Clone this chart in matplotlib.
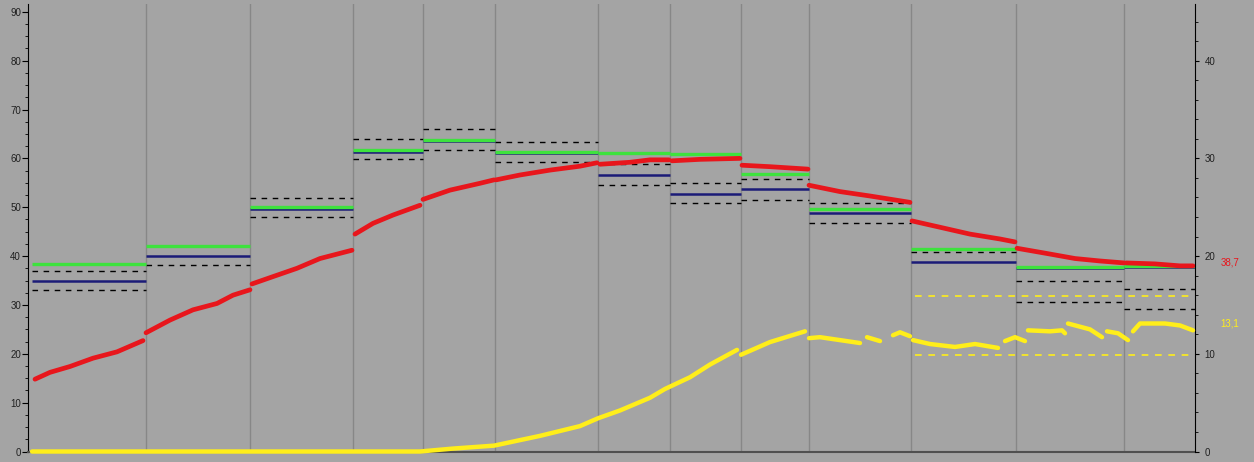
import numpy as np
import matplotlib
matplotlib.use("Agg")
import matplotlib.pyplot as plt
from matplotlib.ticker import MultipleLocator
import matplotlib.transforms as mtransforms

plt.rcParams['font.family'] = ['Liberation Sans', 'DejaVu Sans']

# Segment edges (x position, arbitrary time units)
seg_edges = [4, 118, 222, 325, 395, 467, 570, 642, 713, 781, 883, 988, 1096, 1167]

# Horizontal levels per segment (left axis)
green_lvl = [38.4, 42.1, 50.0, 61.7, 63.8, 61.4, 61.0, 60.8, 56.9, 49.6, 41.5, 37.8, 38.0]
blue_lvl = [35.0, 40.0, 49.7, 61.4, 63.6, 61.2, 56.5, 52.8, 53.7, 48.9, 38.8, 37.6, 37.8]
dash_hi = [37.0, np.nan, 51.8, 63.9, 66.1, 63.3, 58.8, 54.9, 55.7, 50.9, 40.8, 34.8, 33.2]
dash_lo = [33.0, 38.1, 47.9, 59.8, 61.8, 59.3, 54.5, 50.9, 51.5, 46.8, np.nan, 30.7, 29.2]

# Red series (left axis), one list per segment
red_x = [
    [7, 22, 42, 65, 89, 115],
    [118, 142, 165, 189, 205, 222],
    [224, 245, 269, 292, 324],
    [327, 345, 365, 392],
    [395, 422, 452, 466],
    [468, 492, 522, 552, 569],
    [572, 602, 622, 641],
    [644, 672, 712],
    [714, 742, 780],
    [781, 812, 842, 882],
    [884, 912, 942, 972, 987],
    [989, 1017, 1047, 1072, 1096],
    [1098, 1127, 1152, 1165],
]
red_y = [
    [14.8, 16.2, 17.4, 19.1, 20.4, 22.7],
    [24.3, 26.9, 29.0, 30.3, 32.0, 33.1],
    [34.3, 35.8, 37.5, 39.5, 41.2],
    [44.5, 46.7, 48.4, 50.4],
    [51.6, 53.5, 54.9, 55.6],
    [55.6, 56.6, 57.6, 58.4, 59.1],
    [58.8, 59.2, 59.7, 59.7],
    [59.5, 59.8, 60.0],
    [58.6, 58.3, 57.8],
    [54.5, 53.2, 52.3, 51.0],
    [47.2, 45.9, 44.5, 43.5, 42.9],
    [41.6, 40.6, 39.5, 39.0, 38.6],
    [38.6, 38.4, 38.0, 38.0],
]

# Yellow series (right axis), pieces between jumps
yel_x = [
    [4, 200, 392, 425, 466, 512, 552, 570, 592, 622, 637, 662, 682, 709],
    [713, 742, 777],
    [781, 792, 812, 832],
    [839, 852],
    [865, 872, 882],
    [885, 902, 927, 947, 970],
    [977, 987, 997],
    [1000, 1022, 1034, 1037],
    [1040, 1062, 1074],
    [1079, 1090, 1100],
    [1105, 1112, 1137, 1152, 1165],
]
yel_y = [
    [0, 0, 0, 0.3, 0.6, 1.6, 2.6, 3.4, 4.2, 5.5, 6.4, 7.6, 8.9, 10.4],
    [9.9, 11.2, 12.3],
    [11.6, 11.7, 11.4, 11.1],
    [11.7, 11.3],
    [11.9, 12.2, 11.8],
    [11.4, 11.0, 10.7, 11.0, 10.6],
    [11.3, 11.7, 11.3],
    [12.4, 12.3, 12.4, 12.1],
    [13.1, 12.5, 11.7],
    [12.3, 12.1, 11.4],
    [12.3, 13.1, 13.1, 12.9, 12.4],
]
yel_band = [15.9, 9.9]
yel_band_start = 887

red_last = "38,7"
yel_last = "13,1"

bg = "#a4a4a4"
c_red = "#e8161c"
c_green = "#3ee23e"
c_blue = "#1b1b78"
c_yel = "#ffee1a"

fig = plt.figure(figsize=(12.54, 4.62), dpi=100, facecolor=bg)
ax = fig.add_axes([28 / 1254, 1 - 451.5 / 462, (1195 - 28) / 1254, (451.5 - 4) / 462])
ax.set_facecolor(bg)
ax.set_xlim(0, 1167)
ax.set_ylim(0, 91.6)
ax2 = ax.twinx()
ax2.set_ylim(0, 45.8)

for xb in seg_edges[1:-1]:
    ax.axvline(xb, color="#878787", lw=1.0, zorder=1)

for i in range(len(green_lvl)):
    x0, x1 = seg_edges[i], seg_edges[i + 1]
    ax.hlines(dash_hi[i], x0, x1, colors="black", lw=1.0, linestyles=(0, (4, 4)), zorder=2)
    ax.hlines(dash_lo[i], x0, x1, colors="black", lw=1.0, linestyles=(0, (4, 4)), zorder=2)
    ax.hlines(blue_lvl[i], x0, x1, colors=c_blue, lw=1.8, zorder=3)
    ax.hlines(green_lvl[i], x0, x1, colors=c_green, lw=2.4, zorder=4)

for xs, ys in zip(red_x, red_y):
    ax.plot(xs, ys, color=c_red, lw=3.4, solid_capstyle="round", solid_joinstyle="round", zorder=5)

for xs, ys in zip(yel_x, yel_y):
    ax2.plot(xs, ys, color=c_yel, lw=3.2, solid_capstyle="round", solid_joinstyle="round",
             zorder=5, clip_on=False)

for v in yel_band:
    ax2.hlines(v, yel_band_start, 1167, colors=c_yel, lw=1.2, linestyles=(0, (4, 4)), zorder=3)

# spines / ticks
for s in ["top", "right"]:
    ax.spines[s].set_visible(False)
ax.spines["left"].set_color("black")
ax.spines["bottom"].set_color("#505050")
ax.spines["bottom"].set_linewidth(1.5)
for s in ["top", "left", "bottom"]:
    ax2.spines[s].set_visible(False)
ax2.spines["right"].set_color("black")

ax.tick_params(axis="x", bottom=False, labelbottom=False)
ax.yaxis.set_major_locator(MultipleLocator(10))
ax.yaxis.set_minor_locator(MultipleLocator(2.5))
ax.tick_params(axis="y", which="major", length=4, labelsize=7, colors="black", labelcolor="#202020", pad=1)
ax.tick_params(axis="y", which="minor", length=2, colors="black")
ax2.yaxis.set_major_locator(MultipleLocator(10))
ax2.yaxis.set_minor_locator(MultipleLocator(2))
ax2.tick_params(axis="y", which="major", length=3, labelsize=7, colors="black", labelcolor="#202020", pad=4)
ax2.tick_params(axis="y", which="minor", length=2, colors="black")

trans = mtransforms.blended_transform_factory(ax.transAxes, ax.transData)
ax.text(1.022, 38.7, red_last, transform=trans, color=c_red, fontsize=7, va="center", ha="left")
trans2 = mtransforms.blended_transform_factory(ax2.transAxes, ax2.transData)
ax2.text(1.022, 13.1, yel_last, transform=trans2, color=c_yel, fontsize=7, va="center", ha="left")

fig.savefig("out.png", dpi=100, facecolor=bg)
